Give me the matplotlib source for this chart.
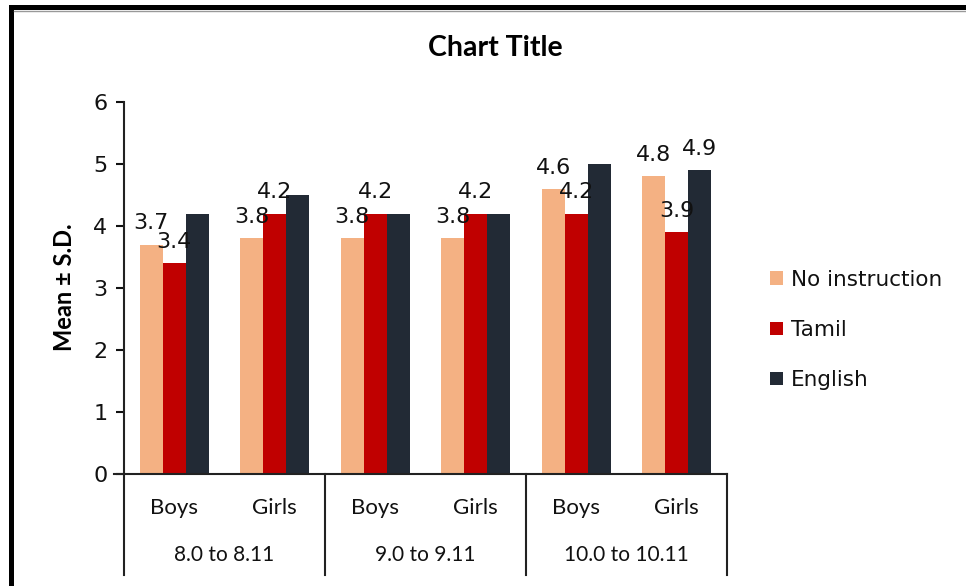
import matplotlib
matplotlib.use("Agg")
import matplotlib.pyplot as plt
from matplotlib.patches import Rectangle
from matplotlib.lines import Line2D
import matplotlib.transforms as mtransforms
import numpy as np

# ---- data ----
subgroups = ["Boys", "Girls", "Boys", "Girls", "Boys", "Girls"]
age_groups = ["8.0 to 8.11", "9.0 to 9.11", "10.0 to 10.11"]
series_names = ["No instruction", "Tamil", "English"]
no_instruction = [3.7, 3.8, 3.8, 3.8, 4.6, 4.8]
tamil = [3.4, 4.2, 4.2, 4.2, 4.2, 3.9]
english = [4.2, 4.5, 4.2, 4.2, 5.0, 4.9]
# which bars carry a data label
label_no_instruction = [True, True, True, True, True, True]
label_tamil = [True, True, True, True, True, True]
label_english = [False, False, False, False, False, True]
y_ticks = [0, 1, 2, 3, 4, 5, 6]

colors = ["#F4B183", "#C00000", "#222A35"]

W, H = 966, 586
fig = plt.figure(figsize=(W / 100, H / 100), dpi=100)
fig.patch.set_facecolor("white")

ax_left, ax_right = 124, 727
ax_bot, ax_top = 474, 102
ax = fig.add_axes([ax_left / W, (H - ax_bot) / H, (ax_right - ax_left) / W, (ax_bot - ax_top) / H])

x = np.arange(len(subgroups))
bw = 0.23
series = [no_instruction, tamil, english]
flags = [label_no_instruction, label_tamil, label_english]
for i, (vals, col, name, fl) in enumerate(zip(series, colors, series_names, flags)):
    pos = x + (i - 1) * bw
    bars = ax.bar(pos, vals, width=bw, color=col, label=name, zorder=2)
    for b, v, f in zip(bars, vals, fl):
        if f:
            ax.annotate(f"{v:.1f}", (b.get_x() + b.get_width() / 2, v),
                        xytext=(0, 8), textcoords="offset points",
                        ha="center", va="bottom", fontsize=16,
                        family="DejaVu Sans", color="#111111", zorder=5)

ax.set_xlim(-0.5, len(subgroups) - 0.5)
ax.set_ylim(0, 6)
ax.set_yticks(y_ticks)
ax.set_yticklabels([str(t) for t in y_ticks], fontsize=16, family="DejaVu Sans")
ax.tick_params(axis="y", direction="out", length=6, width=1.5, pad=6, colors="#111111")
ax.set_xticks([])
for s in ["top", "right", "bottom"]:
    ax.spines[s].set_visible(False)
ax.spines["left"].set_linewidth(1.5)
ax.spines["left"].set_color("#222222")

trans = mtransforms.blended_transform_factory(ax.transData, ax.transAxes)
# x axis line (extends slightly left)
ax.add_line(Line2D([-0.6, 5.5], [0, 0], transform=trans, color="#222222", lw=1.5, clip_on=False, zorder=3))
# group separators
for xs in [-0.5, 1.5, 3.5, 5.5]:
    ax.add_line(Line2D([xs, xs], [0, -0.2715], transform=trans, color="#222222", lw=1.5, clip_on=False))

for xi, lab in zip(x, subgroups):
    ax.text(xi, -0.0914, lab, transform=trans, ha="center", va="center", fontsize=16,
            family="Lato", color="#111111")
for gi, lab in enumerate(age_groups):
    ax.text(2 * gi + 0.5, -0.218, lab, transform=trans, ha="center", va="center", fontsize=15,
            family="Lato", color="#111111")

# title and axis label
fig.text(495 / W, (H - 48) / H, "Chart Title", ha="center", va="center", fontsize=20.5,
         fontweight="bold", family="Lato")
fig.text(65 / W, (H - 287) / H, "Mean \u00b1 S.D.", rotation=90, ha="center", va="center",
         fontsize=17, fontweight="bold", family="Lato")

# legend
leg = fig.legend(loc="center left", bbox_to_anchor=(751 / W, (H - 330) / H), frameon=False,
                 handlelength=0.6, handleheight=0.6, handletextpad=0.35,
                 labelspacing=1.4, prop={"family": "DejaVu Sans", "size": 15.5})
for t in leg.get_texts():
    t.set_color("#111111")

# image border (top and left)
fig.add_artist(Rectangle((9 / W, (H - 10) / H), 1 - 9 / W, 5 / H, transform=fig.transFigure,
                         facecolor="black", edgecolor="none"))
fig.add_artist(Rectangle((9 / W, 0), 5 / W, (H - 5) / H, transform=fig.transFigure,
                         facecolor="black", edgecolor="none"))
fig.add_artist(Line2D([14 / W, 1], [(H - 11) / H, (H - 11) / H], transform=fig.transFigure,
                      color="#999999", lw=1))

fig.savefig("out.png", dpi=100)
